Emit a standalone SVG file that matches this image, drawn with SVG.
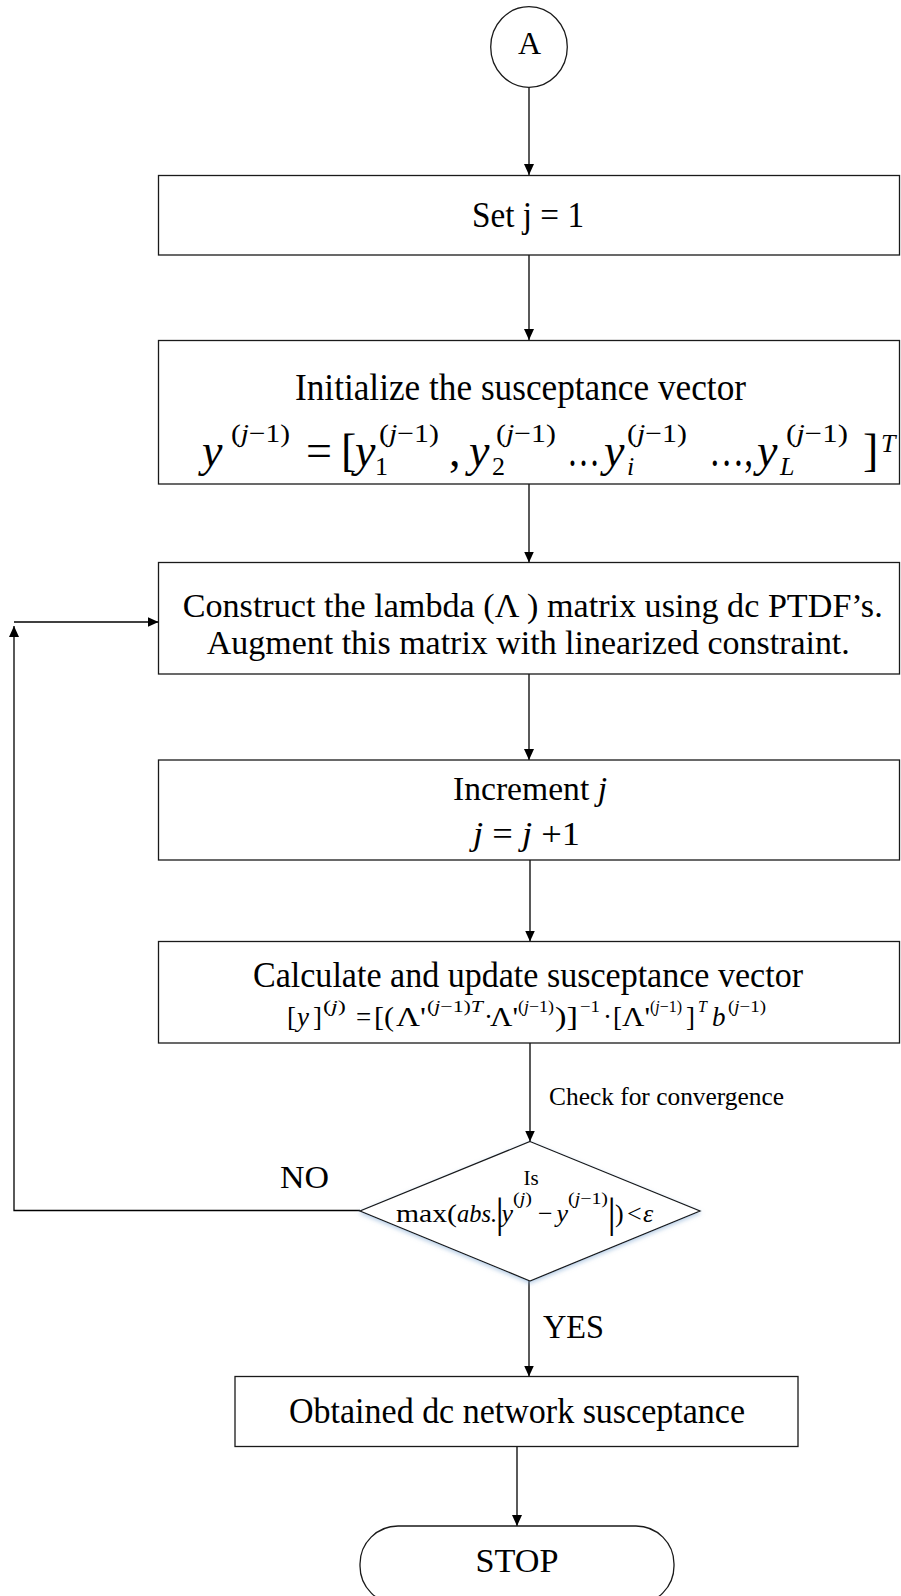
<svg xmlns="http://www.w3.org/2000/svg" width="901" height="1596" viewBox="0 0 901 1596">
<defs>
<marker id="arr" markerUnits="userSpaceOnUse" markerWidth="12" markerHeight="11" refX="11" refY="5" orient="auto">
<path d="M0,0 L11,5 L0,10 Z" fill="#000"/>
</marker>
<filter id="sh" x="-10%" y="-10%" width="120%" height="130%">
<feDropShadow dx="0" dy="2" stdDeviation="2" flood-color="#7fa7d0" flood-opacity="0.55"/>
</filter>
</defs>
<style>
text,tspan{font-family:"Liberation Serif","DejaVu Serif",serif}
text{fill:#000}
.box{fill:#fff;stroke:#1a1a1a;stroke-width:1.3}
.c{fill:none;stroke:#000;stroke-width:1.3}
.it{font-style:italic}
.m{text-anchor:middle}
</style>
<rect width="901" height="1596" fill="#fff"/>

<g id="connectors">
<line class="c" x1="529" y1="87" x2="529" y2="175" marker-end="url(#arr)"/>
<line class="c" x1="529" y1="255" x2="529" y2="340" marker-end="url(#arr)"/>
<line class="c" x1="529" y1="484" x2="529" y2="562.5" marker-end="url(#arr)"/>
<line class="c" x1="529" y1="674" x2="529" y2="760" marker-end="url(#arr)"/>
<line class="c" x1="530" y1="860" x2="530" y2="941.5" marker-end="url(#arr)"/>
<line class="c" x1="530" y1="1043" x2="530" y2="1141.5" marker-end="url(#arr)"/>
<line class="c" x1="529" y1="1281" x2="529" y2="1376.5" marker-end="url(#arr)"/>
<line class="c" x1="517" y1="1446.5" x2="517" y2="1526" marker-end="url(#arr)"/>
<path class="c" d="M360,1210.5 H14 V626" marker-end="url(#arr)"/>
<line class="c" x1="14" y1="622" x2="158.5" y2="622" marker-end="url(#arr)"/>
<text x="549" y="1105" font-size="25" textLength="235" lengthAdjust="spacingAndGlyphs">Check for convergence</text>
<text x="280" y="1188" font-size="32" textLength="49" lengthAdjust="spacingAndGlyphs">NO</text>
<text x="543" y="1338" font-size="33" textLength="61" lengthAdjust="spacingAndGlyphs">YES</text>
</g>

<g id="start">
<ellipse cx="529" cy="47" rx="38.3" ry="40.3" fill="#fff" stroke="#1a1a1a" stroke-width="1.3"/>
<text x="529.5" y="54" font-size="32" class="m">A</text>
</g>

<g id="setj">
<rect class="box" x="158.5" y="175.5" width="741" height="79.5"/>
<text x="528" y="227" font-size="35" class="m" textLength="112" lengthAdjust="spacingAndGlyphs">Set j = 1</text>
</g>

<g id="init">
<rect class="box" x="158.5" y="340.5" width="741" height="143.5"/>
<text x="520.5" y="400" font-size="37" class="m" textLength="451" lengthAdjust="spacingAndGlyphs">Initialize the susceptance vector</text>
<text font-size="46">
<tspan x="202" y="466" class="it">y</tspan>
<tspan x="306" y="466">=</tspan>
<tspan x="341" y="466">[</tspan>
<tspan x="355" y="466" class="it">y</tspan>
<tspan x="449" y="466">,</tspan>
<tspan x="469" y="466" class="it">y</tspan>
<tspan x="567" y="466" textLength="33" lengthAdjust="spacingAndGlyphs">…</tspan>
<tspan x="604" y="466" class="it">y</tspan>
<tspan x="709" y="466" textLength="44" lengthAdjust="spacingAndGlyphs">…,</tspan>
<tspan x="757" y="466" class="it">y</tspan>
<tspan x="863" y="466">]</tspan>
</text>
<text font-size="26">
<tspan x="231" y="442" textLength="59" lengthAdjust="spacingAndGlyphs">(<tspan class="it">j</tspan>−1)</tspan>
<tspan x="379" y="442" textLength="60" lengthAdjust="spacingAndGlyphs">(<tspan class="it">j</tspan>−1)</tspan>
<tspan x="496" y="442" textLength="60" lengthAdjust="spacingAndGlyphs">(<tspan class="it">j</tspan>−1)</tspan>
<tspan x="627" y="442" textLength="60" lengthAdjust="spacingAndGlyphs">(<tspan class="it">j</tspan>−1)</tspan>
<tspan x="786" y="442" textLength="62" lengthAdjust="spacingAndGlyphs">(<tspan class="it">j</tspan>−1)</tspan>
<tspan x="881" y="452" class="it">T</tspan>
</text>
<text font-size="26">
<tspan x="375" y="475">1</tspan>
<tspan x="492" y="475">2</tspan>
<tspan x="627" y="475" class="it">i</tspan>
<tspan x="780" y="475" class="it">L</tspan>
</text>
</g>

<g id="construct">
<rect class="box" x="158.5" y="562.5" width="741" height="111.5"/>
<text x="532.7" y="617" font-size="34" class="m" textLength="700" lengthAdjust="spacingAndGlyphs">Construct the lambda (Λ ) matrix using dc PTDF’s.</text>
<text x="528.3" y="654" font-size="34" class="m" textLength="643" lengthAdjust="spacingAndGlyphs">Augment this matrix with linearized constraint.</text>
</g>

<g id="increment">
<rect class="box" x="158.5" y="760" width="741" height="100"/>
<text x="530" y="800" font-size="34" class="m" textLength="154" lengthAdjust="spacingAndGlyphs">Increment <tspan class="it">j</tspan></text>
<text x="526.5" y="845" font-size="34" class="m" textLength="107" lengthAdjust="spacingAndGlyphs"><tspan class="it">j</tspan> = <tspan class="it">j</tspan> +1</text>
</g>

<g id="update">
<rect class="box" x="158.5" y="941.5" width="741" height="101.5"/>
<text x="528" y="987" font-size="35" class="m" textLength="550" lengthAdjust="spacingAndGlyphs">Calculate and update susceptance vector</text>
<text font-size="27">
<tspan x="287" y="1026">[</tspan>
<tspan x="297" y="1026" class="it">y</tspan>
<tspan x="313" y="1026">]</tspan>
<tspan x="356" y="1026">=</tspan>
<tspan x="374" y="1026" textLength="20" lengthAdjust="spacingAndGlyphs">[(</tspan>
<tspan x="396" y="1026" textLength="30" lengthAdjust="spacingAndGlyphs">Λ'</tspan>
<tspan x="484" y="1026">·</tspan>
<tspan x="490" y="1026" textLength="28" lengthAdjust="spacingAndGlyphs">Λ'</tspan>
<tspan x="555" y="1026" textLength="23" lengthAdjust="spacingAndGlyphs">)]</tspan>
<tspan x="603" y="1026">·</tspan>
<tspan x="613" y="1026">[</tspan>
<tspan x="622" y="1026" textLength="28" lengthAdjust="spacingAndGlyphs">Λ'</tspan>
<tspan x="686" y="1026">]</tspan>
<tspan x="712" y="1026" class="it">b</tspan>
</text>
<text font-size="16">
<tspan x="323" y="1012" textLength="23" lengthAdjust="spacingAndGlyphs">(<tspan class="it">j</tspan>)</tspan>
<tspan x="427" y="1012" textLength="56" lengthAdjust="spacingAndGlyphs">(<tspan class="it">j</tspan>−1)<tspan class="it">T</tspan></tspan>
<tspan x="518" y="1012" textLength="36" lengthAdjust="spacingAndGlyphs">(<tspan class="it">j</tspan>−1)</tspan>
<tspan x="580" y="1012" textLength="20" lengthAdjust="spacingAndGlyphs">−1</tspan>
<tspan x="650" y="1012" textLength="32" lengthAdjust="spacingAndGlyphs">(<tspan class="it">j</tspan>−1)</tspan>
<tspan x="698" y="1012" class="it">T</tspan>
<tspan x="728" y="1012" textLength="38" lengthAdjust="spacingAndGlyphs">(<tspan class="it">j</tspan>−1)</tspan>
</text>
</g>

<g id="decision">
<polygon points="530,1141.5 700,1211 530,1281 360,1211" fill="#fff" stroke="#1a1a1a" stroke-width="1.3" filter="url(#sh)"/>
<text x="531" y="1185" font-size="21" class="m">Is</text>
<text font-size="26">
<tspan x="396" y="1222" textLength="61" lengthAdjust="spacingAndGlyphs">max(</tspan>
<tspan x="457" y="1222" class="it" textLength="40" lengthAdjust="spacingAndGlyphs">abs.</tspan>
<tspan x="501.5" y="1222" class="it">y</tspan>
<tspan x="538" y="1222">−</tspan>
<tspan x="556.5" y="1222" class="it">y</tspan>
<tspan x="615" y="1222">)</tspan>
<tspan x="627" y="1222">&lt;</tspan>
<tspan x="643" y="1222" class="it">ε</tspan>
</text>
<text font-size="42">
<tspan x="495.5" y="1227">|</tspan>
<tspan x="607.5" y="1227">|</tspan>
</text>
<text font-size="17">
<tspan x="513" y="1204" textLength="19" lengthAdjust="spacingAndGlyphs">(<tspan class="it">j</tspan>)</tspan>
<tspan x="568" y="1204" textLength="40" lengthAdjust="spacingAndGlyphs">(<tspan class="it">j</tspan>−1)</tspan>
</text>
</g>

<g id="obtained">
<rect class="box" x="235" y="1376.5" width="563" height="70"/>
<text x="517" y="1423" font-size="35" class="m" textLength="456" lengthAdjust="spacingAndGlyphs">Obtained dc network susceptance</text>
</g>

<g id="stop">
<rect class="box" x="360" y="1526" width="314" height="78" rx="38" ry="38"/>
<text x="517" y="1572" font-size="34" class="m" textLength="83" lengthAdjust="spacingAndGlyphs">STOP</text>
</g>
</svg>
